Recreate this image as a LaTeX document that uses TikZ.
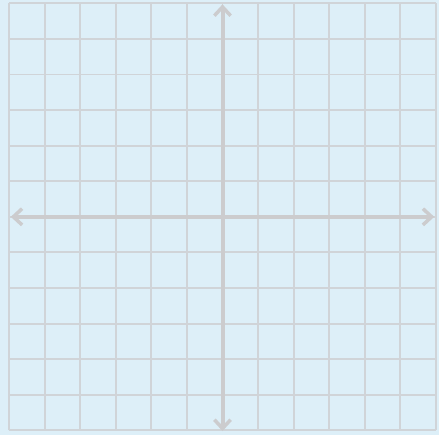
\documentclass[tikz,border=0pt]{standalone}
\usetikzlibrary{arrows.meta}
\definecolor{PaperBlue}{RGB}{221,239,248}
\definecolor{GridGray}{RGB}{208,212,216}
\definecolor{AxisGray}{RGB}{204,204,206}
\tikzset{
  gridline/.style={GridGray,line width=1.5pt},
  axisline/.style={{Straight Barb[length=7pt,width=13pt,line width=2.8pt]}-{Straight Barb[length=7pt,width=13pt,line width=2.8pt]},
    AxisGray,line width=3.2pt}
}
\begin{document}
\begin{tikzpicture}
          \fill[PaperBlue] (-6.253,-6.14) rectangle (6.084,6.093);
          \useasboundingbox (-6.253,-6.14) rectangle (6.084,6.093);
          \draw[gridline] (-6,-6) grid (6,6);
          \draw[axisline] (-5.95,0) -- (5.95,0);
          \draw[axisline] (0,-6.02) -- (0,5.97);
        \end{tikzpicture}
\end{document}
